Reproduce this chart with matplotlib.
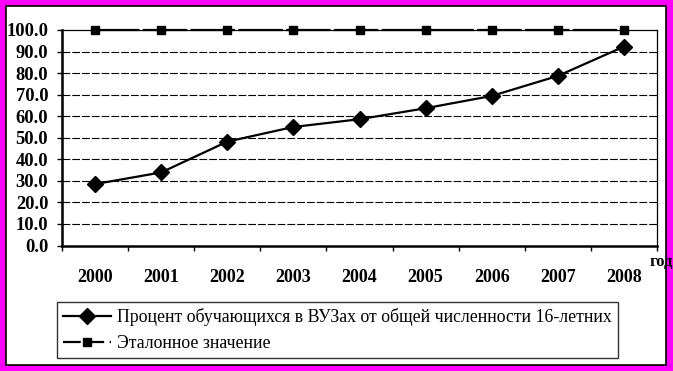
import matplotlib
matplotlib.use("Agg")
import matplotlib.pyplot as plt
from matplotlib.patches import Rectangle
from matplotlib.lines import Line2D

years = ["2000", "2001", "2002", "2003", "2004", "2005", "2006", "2007", "2008"]
percent = [28.5, 33.9, 48.2, 55.0, 58.6, 63.7, 69.4, 78.7, 92.3]
reference = [100.0] * 9
yticks = [0, 10, 20, 30, 40, 50, 60, 70, 80, 90, 100]
label1 = "Процент обучающихся в ВУЗах от общей численности 16-летних"
label2 = "Эталонное значение"
xlabel = "год"

W, H = 673, 371
plt.rcParams['font.family'] = ['Liberation Serif', 'DejaVu Serif']

fig = plt.figure(figsize=(W / 100, H / 100), dpi=100, facecolor='#FF00FF')

def fx(px):
    return px / W

def fy(py):
    return 1 - py / H

# white inner panel with black border
fig.patches.append(Rectangle((fx(6), fy(364.5)), fx(666) - fx(6), fy(6) - fy(364.5),
                             transform=fig.transFigure, facecolor='white',
                             edgecolor='black', linewidth=1.2, zorder=-10))

ax = fig.add_axes([fx(62), fy(245.5), fx(657) - fx(62), fy(30) - fy(245.5)])
ax.set_zorder(5)
ax.set_facecolor('none')

x = list(range(len(years)))
ax.set_xlim(-0.5, len(years) - 0.5)
ax.set_ylim(0, 100)

# grid
for v in yticks[1:-1]:
    ax.axhline(v, color='black', lw=0.8, dashes=(7, 1.8), zorder=1)

ax.plot(x, reference, color='black', lw=1.6, dashes=(20, 1.5), marker='s',
        markersize=5.5, zorder=3, label=label2, clip_on=False)
ax.plot(x, percent, color='black', lw=1.6, marker='D', markersize=7.8,
        zorder=4, label=label1, clip_on=False)

# spines
for s in ['left', 'bottom']:
    ax.spines[s].set_linewidth(1.8)
for s in ['right', 'top']:
    ax.spines[s].set_linewidth(0.9)

ax.set_yticks(yticks)
ax.set_yticklabels([f"{v:.1f}" for v in yticks], fontsize=13.3, fontweight='bold')
ax.tick_params(axis='y', direction='out', length=3.6, width=1, pad=6.3)

ax.set_xticks([i - 0.5 for i in range(len(years) + 1)])
ax.set_xticklabels([])
ax.set_xticks(x, minor=True)
ax.set_xticklabels(years, minor=True, fontsize=13, fontweight='bold')
ax.tick_params(axis='x', which='major', direction='out', length=3.6, width=1)
ax.tick_params(axis='x', which='minor', length=0, pad=17)

fig.text(fx(661), fy(262), xlabel, fontsize=12, fontweight='bold',
         ha='center', va='center')

h1 = Line2D([], [], color='black', lw=1.6, marker='D', markersize=7.8)
h2 = Line2D([], [], color='black', lw=1.6, dashes=(8, 2.5), marker='s', markersize=5.5)
leg = fig.legend([h1, h2], [label1, label2], loc='upper left',
                 bbox_to_anchor=(fx(57), fy(302)), fontsize=12.8,
                 frameon=True, fancybox=False, edgecolor='black',
                 handlelength=2.7, handletextpad=0.35, borderpad=0.35,
                 labelspacing=0.5, borderaxespad=0)
leg.get_frame().set_linewidth(1.0)

fig.savefig('out.png', dpi=100, facecolor=fig.get_facecolor())
